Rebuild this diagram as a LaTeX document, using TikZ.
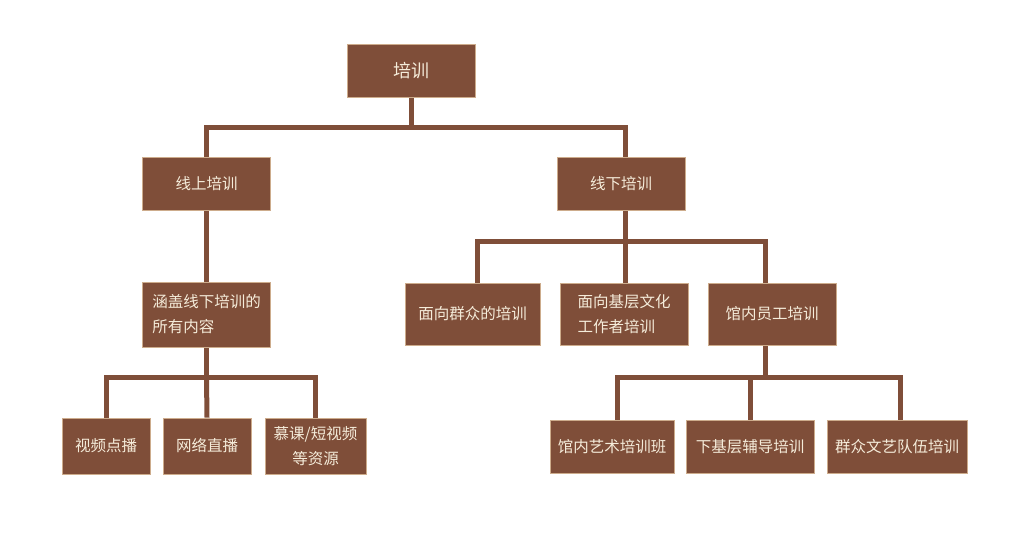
\documentclass[tikz,border=0pt]{standalone}
\usepackage{fontspec}
\newfontfamily\cjk{Noto Sans CJK SC}
\usetikzlibrary{backgrounds}
\definecolor{boxbrown}{RGB}{127,78,57}
\definecolor{boxrim}{RGB}{205,172,140}
\definecolor{boxtext}{RGB}{245,236,218}

\begin{document}
\begin{tikzpicture}[x=1pt,y=-1pt,
  box/.style={fill=boxbrown,draw=boxrim,line width=0.8pt,text=boxtext,
    font=\cjk\fontsize{15.5}{25}\selectfont,align=left,
    minimum width=128pt,minimum height=53pt,inner sep=0pt},
  link/.style={draw=boxbrown,line width=5pt}]
\useasboundingbox (0,0) rectangle (1010,534);
% top
\node[box,font=\cjk\fontsize{18}{25}\selectfont] (train) at (411,70.5) {培训};
\node[box] (online) at (206.5,184) {线上培训};
\node[box] (offline) at (621,184) {线下培训};
% online branch
\node[box,minimum height=65pt] (cover) at (206.5,314.5) {涵盖线下培训的\\所有内容};
\node[box,minimum width=88pt,minimum height=56pt] (video) at (106,446) {视频点播};
\node[box,minimum width=88pt,minimum height=56pt] (live) at (207,446) {网络直播};
\node[box,minimum width=101pt,minimum height=56pt,align=center] (mooc) at (315.5,446) {慕课/短视频\\等资源};
% offline branch
\node[box,minimum width=135pt,minimum height=62pt] (public) at (472.5,314) {面向群众的培训};
\node[box,minimum height=62pt] (grass) at (624,314) {面向基层文化\\工作者培训};
\node[box,minimum height=62pt] (staff) at (772,314) {馆内员工培训};
\node[box,minimum width=124pt] (arts) at (612,446.5) {馆内艺术培训班};
\node[box] (guide) at (750,446.5) {下基层辅导培训};
\node[box,minimum width=140pt] (troupe) at (897,446.5) {群众文艺队伍培训};
% connectors
\begin{scope}[on background layer]
\draw[link] (train.south) -- ++(0,30) coordinate (topbar);
\draw[link] (online.north) |- (topbar) -| ([xshift=4pt]offline.north);
\draw[link] (online) -- (cover);
\draw[link] (cover.south) -- ++(0,30.5) coordinate (coverbar);
\draw[link] (video.north) |- (coverbar) -| (mooc.north);
\draw[link] (coverbar) -- (live.north);
\draw[link] ([xshift=4pt]offline.south) -- ++(0,30.5) coordinate (offbar);
\draw[link] ([xshift=4.5pt]public.north) |- (offbar) -| ([xshift=-7pt]staff.north);
\draw[link] (offbar) -- (offbar |- grass.north);
\draw[link] ([xshift=-7pt]staff.south) -- ++(0,32) coordinate (staffbar);
\draw[link] ([xshift=5pt]arts.north) |- (staffbar) -| ([xshift=3pt]troupe.north);
\draw[link] (staffbar -| guide.north) -- (guide.north);
\end{scope}
\end{tikzpicture}
\end{document}
